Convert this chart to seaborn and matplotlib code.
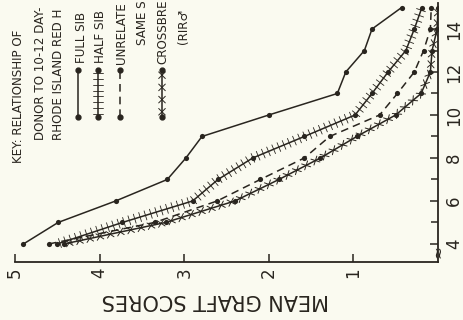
import matplotlib
matplotlib.use('Agg')
import matplotlib.pyplot as plt
import matplotlib.patheffects as pe
from matplotlib.lines import Line2D
import seaborn as sns

age = [4, 5, 6, 7, 8, 9, 10, 11, 12, 13, 14, 15]
full_sib = [4.90, 4.49, 3.81, 3.20, 2.98, 2.79, 2.00, 1.19, 1.09, 0.87, 0.78, 0.43]
half_sib = [4.50, 3.73, 2.90, 2.60, 2.19, 1.58, 0.98, 0.78, 0.59, 0.38, 0.28, 0.19]
unrelated = [4.60, 3.35, 2.61, 2.10, 1.58, 1.28, 0.69, 0.48, 0.28, 0.17, 0.09, 0.08]
crossbred = [4.42, 3.22, 2.40, 1.88, 1.39, 0.96, 0.50, 0.20, 0.09, 0.07, 0.01, 0.00]

score_ticks = [5, 4, 3, 2, 1]
age_ticks = [4, 6, 8, 10, 12, 14]
age_minor = [5, 7, 9, 11, 13]

# the scan cuts the key off at its top edge, keep only what is visible
key_lines = ['KEY: RELATIONSHIP OF', 'DONOR TO 10-12 DAY-', 'RHODE ISLAND RED H']
legend_names = ['FULL SIB', 'HALF SIB', 'UNRELATE', 'SAME S', 'CROSSBRE', '(RIR\u2642']

ink = '#29251f'
paper = '#fafaf0'
W, H = 464, 320

sns.set_style('ticks', {'axes.facecolor': paper, 'figure.facecolor': paper,
                        'axes.edgecolor': ink, 'xtick.color': ink, 'ytick.color': ink,
                        'text.color': ink, 'axes.labelcolor': ink})
plt.rcParams['font.family'] = ['DejaVu Sans']
key_font = ['Liberation Sans Narrow', 'DejaVu Sans Condensed', 'DejaVu Sans']

fig = plt.figure(figsize=(W / 100, H / 100), dpi=100)
# axes box in pixels: score 5 at x=15, score 0 at x=438, bottom at y=262
ax = fig.add_axes([15 / W, 1 - 262 / H, (438 - 15) / W, (262 - 3) / H])

# tick decorations along the lines
plus_fx = [pe.Normal(),
           pe.TickedStroke(angle=90, spacing=4.0, length=0.85, linewidth=0.6, foreground=ink),
           pe.TickedStroke(angle=-90, spacing=4.0, length=0.85, linewidth=0.6, foreground=ink)]
cross_fx = [pe.Normal()] + [pe.TickedStroke(angle=a, spacing=7.5, length=0.45, linewidth=0.7, foreground=ink)
                            for a in (45, -135, 135, -45)]

series = [
    (full_sib, dict(linestyle='-'), None),
    (half_sib, dict(linestyle='-'), plus_fx),
    (unrelated, dict(dashes=(5, 3.3)), None),
    (crossbred, dict(linestyle='-'), cross_fx),
]
for vals, style, fx in series:
    sns.lineplot(x=vals, y=age, sort=False, estimator=None, color=ink, lw=1.1,
                 path_effects=fx, ax=ax, **style)
    sns.scatterplot(x=vals, y=age, color=ink, s=14, linewidth=0, ax=ax, zorder=3)

ax.set_xlim(5, 0)
ax.set_ylim(3.16, 15.21)
ax.yaxis.tick_right()
ax.set_xticks(score_ticks)
ax.set_xticklabels([str(t) for t in score_ticks], rotation=90, fontsize=12)
ax.set_yticks(age_ticks)
ax.set_yticks(age_minor, minor=True)
ax.set_yticklabels([str(t) for t in age_ticks], rotation=90, va='center', fontsize=12)
ax.tick_params(direction='in', length=6, width=1.1, pad=4)
ax.tick_params(axis='y', which='minor', direction='in', length=5, width=1.1, right=True, left=False)
ax.tick_params(axis='y', which='major', pad=5)
for side in ['top', 'left']:
    ax.spines[side].set_visible(False)
for side in ['bottom', 'right']:
    ax.spines[side].set_linewidth(1.3)

ax.set_xlabel('MEAN GRAFT SCORES', rotation=180, fontsize=15, va='center')
ax.xaxis.set_label_coords((215 - 15) / 423, (262 - 300) / 259)
ax.set_ylabel('')

# axis break mark near the foot of the age axis
ax.text(1.0, (262 - 252) / 259, '\u2248', transform=ax.transAxes, rotation=90,
        ha='center', va='center', fontsize=11, color=ink)


def fpos(x, y):
    return x / W, 1 - y / H


# key text, rotated like the rest of the scan
for (x, y), txt in zip([(19, 163), (41, 140), (59, 140)], key_lines):
    fig.text(*fpos(x, y), txt, rotation=90, ha='center', va='bottom',
             fontsize=8.6, family=key_font)
for (x, y), txt in zip([(82, 63), (101, 63), (122, 64), (143, 45), (163, 64), (184, 44)], legend_names):
    fig.text(*fpos(x, y), txt, rotation=90, ha='center', va='bottom',
             fontsize=8.6, family=key_font)

# legend samples
for x, style, fx in [(78, dict(linestyle='-'), None), (98, dict(linestyle='-'), plus_fx),
                     (120, dict(dashes=(5, 3.3)), None), (162, dict(linestyle='-'), cross_fx)]:
    (x0, y0), (x1, y1) = fpos(x, 117), fpos(x, 70)
    fig.add_artist(Line2D([x0, x1], [y0, y1], transform=fig.transFigure, color=ink,
                          lw=1.1, path_effects=fx, **style))
    fig.add_artist(Line2D([x0, x1], [y0, y1], transform=fig.transFigure, color=ink,
                          linestyle='none', marker='o', markersize=3.5))

fig.savefig('out.png', dpi=100, facecolor=paper)
